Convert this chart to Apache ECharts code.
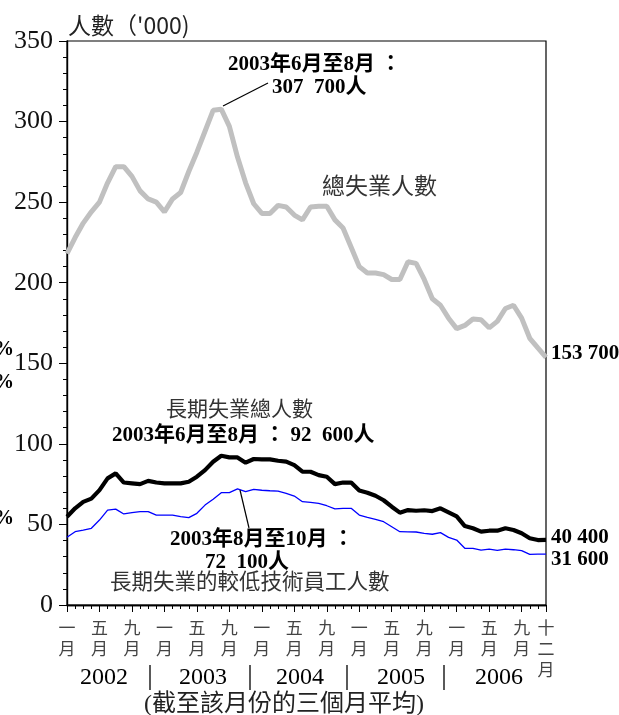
<!DOCTYPE html>
<html>
<head>
<meta charset="utf-8">
<script src="https://cdn.jsdelivr.net/npm/echarts@6/dist/echarts.min.js"></script>
<style>html,body{margin:0;padding:0;background:#fff}#c{width:619px;height:715px}</style>
</head>
<body>
<div id="c"></div>
<script>
// Categories: months Jan 2002 - Dec 2006 (3-month moving averages)
var years = [2002, 2003, 2004, 2005, 2006];
var categories = [];
years.forEach(function (y) { for (var m = 1; m <= 12; m++) categories.push(y + '-' + m); });
// Tick labels for selected months
var monthTickLabels = {1: '一月', 5: '五月', 9: '九月', 12: '十二月'};
var yearLabels = ['2002', '2003', '2004', '2005', '2006'];

// Total unemployed ('000)
var totalUnemployed = [218,228,237,244,250,262,272,272,266,257,
  252,250,244,252,256,269,281,294,307,307.7,
  297,278,262,249,243,243,248,247,242,239,
  247,247.5,247.5,239,234,222,210,206,206,205,
  202,202,213,212,202,190,186,178,171.5,173.5,
  177.5,177,172,176,184,186,178,165.5,159.5,153.7];
// Long-term unemployed ('000)
var longTerm = [54.8,60,64,66,71.3,78.6,81.7,76,75.5,75,
  77,76,75.5,75.5,75.5,76.5,79.6,83.7,88.9,92.6,
  91.6,91.6,88.3,90.6,90.4,90.4,89.5,89,86.8,82.7,
  82.7,80.6,79.6,75,76,76,71,69.7,67.8,65,
  61,57.3,58.9,58.5,58.8,58.3,60,57.5,55,49,
  47.6,45.5,46.1,46.1,47.6,46.5,44.5,41.4,40.3,40.4];
// Long-term unemployed, lower-skilled ('000)
var longTermLowSkill = [42,45.5,46.5,47.6,52.7,58.9,59.5,56.5,57.3,57.9,
  57.9,55.8,55.8,55.8,54.8,54.2,56.9,62,65.6,69.7,
  69.7,72.1,70.3,71.8,71.2,70.9,70.7,69.3,67.6,64.1,
  63.7,63.1,61.6,59.6,60,60,55.8,54.4,53.2,51.7,
  48.6,45.5,45.4,45.3,44.5,43.9,44.9,42,40.3,35.2,
  35.2,34.1,34.7,33.9,34.7,34.3,33.7,31.4,31.6,31.6];

var SERIF = "'Liberation Serif','Noto Sans CJK TC'";
var CJK = "'Noto Sans CJK TC','Liberation Serif'";

function isLabeled(idx) {
  var m = Number(categories[idx].split('-')[1]);
  return monthTickLabels[m] !== undefined && (m !== 12 || idx === categories.length - 1);
}

function txt(x, y, text, size, opts) {
  opts = opts || {};
  return {
    type: 'text', x: x, y: y, z: 100,
    style: {
      text: text, fontSize: size,
      fontFamily: opts.family || SERIF,
      fontWeight: opts.bold ? 'bold' : 'normal',
      fill: opts.color || '#000',
      textAlign: opts.align || 'left', align: opts.align || 'left',
      textVerticalAlign: 'middle', verticalAlign: 'middle'
    }
  };
}
function line(x1, y1, x2, y2, w) {
  return { type: 'line', z: 100, shape: {x1: x1, y1: y1, x2: x2, y2: y2}, style: {stroke: '#000', lineWidth: w || 1.2} };
}

var chart = echarts.init(document.getElementById('c'));
var graphics = [
  txt(68, 25, "人數（'000)", 23, {family: CJK, color: '#222'}),
  txt(228, 65, '2003年6月至8月 ：', 21, {bold: true}),
  txt(272, 88, '307  700人', 21, {bold: true}),
  line(223, 106, 268, 83, 1.2),
  txt(322, 185, '總失業人數', 23, {family: CJK, color: '#333'}),
  txt(166, 408, '長期失業總人數', 21, {family: CJK, color: '#333'}),
  txt(112, 436, '2003年6月至8月 ： 92  600人', 21, {bold: true}),
  txt(170, 540, '2003年8月至10月 ：', 21, {bold: true}),
  txt(205, 563, '72  100人', 21, {bold: true}),
  line(240, 490, 249, 528, 1.2),
  txt(110, 581, '長期失業的較低技術員工人數', 21.5, {family: CJK, color: '#333'}),
  txt(551, 354, '153 700', 21, {bold: true}),
  txt(551, 538, '40 400', 21, {bold: true}),
  txt(551, 560, '31 600', 21, {bold: true}),
  txt(-6, 350, '%', 20, {bold: true}),
  txt(-6, 383, '%', 20, {bold: true}),
  txt(-6, 519, '%', 20, {bold: true}),
  txt(284, 705, '(截至該月份的三個月平均)', 24, {align: 'center', color: '#222'})
];
var yearCenters = [104, 203, 300, 401, 499];
yearLabels.forEach(function (y, i) { graphics.push(txt(yearCenters[i], 678, y, 24, {align: 'center'})); });
[150, 250, 347, 444].forEach(function (x) { graphics.push(line(x, 665, x, 690, 1.3)); });

chart.setOption({
  animation: false,
  backgroundColor: '#fff',
  grid: {left: 67, right: 73, top: 41, bottom: 110, show: true, borderColor: '#000', borderWidth: 1.2, backgroundColor: 'transparent'},
  xAxis: [{
    type: 'category', data: categories, boundaryGap: false, position: 'bottom',
    axisLine: {lineStyle: {color: '#000', width: 1.4}},
    axisTick: {show: true, interval: 0, length: 4, lineStyle: {color: '#000', width: 1}},
    axisLabel: {show: false}, splitLine: {show: false}
  }, {
    type: 'category', data: categories, boundaryGap: false, position: 'bottom',
    axisLine: {lineStyle: {color: '#000', width: 1.4}},
    axisTick: {show: true, interval: function (idx) { return isLabeled(idx); }, length: 7, lineStyle: {color: '#000', width: 1}},
    axisLabel: {
      show: true, interval: function (idx) { return isLabeled(idx); },
      formatter: function (v) {
        var m = Number(v.split('-')[1]);
        return (monthTickLabels[m] || '').split('').join('\n');
      },
      fontSize: 17, lineHeight: 21, color: '#444', margin: 12, fontFamily: CJK
    },
    splitLine: {show: false}
  }],
  yAxis: {
    type: 'value', min: 0, max: 350, interval: 50,
    axisLine: {show: true, lineStyle: {color: '#000', width: 1.4}},
    axisTick: {show: true, length: 8, lineStyle: {color: '#000', width: 1}},
    minorTick: {show: true, splitNumber: 5, length: 4, lineStyle: {color: '#000', width: 1}},
    axisLabel: {fontSize: 26, fontFamily: 'Liberation Serif', color: '#111', margin: 14},
    splitLine: {show: false}, minorSplitLine: {show: false}
  },
  series: [
    {name: '總失業人數', type: 'line', data: totalUnemployed, symbol: 'none', lineStyle: {color: '#c0c0c0', width: 5}, z: 2},
    {name: '長期失業的較低技術員工人數', type: 'line', data: longTermLowSkill, symbol: 'none', lineStyle: {color: '#0000ff', width: 1.3}, z: 3},
    {name: '長期失業總人數', type: 'line', data: longTerm, symbol: 'none', lineStyle: {color: '#000', width: 4.2}, z: 4}
  ],
  graphic: graphics
});
</script>
</body>
</html>
